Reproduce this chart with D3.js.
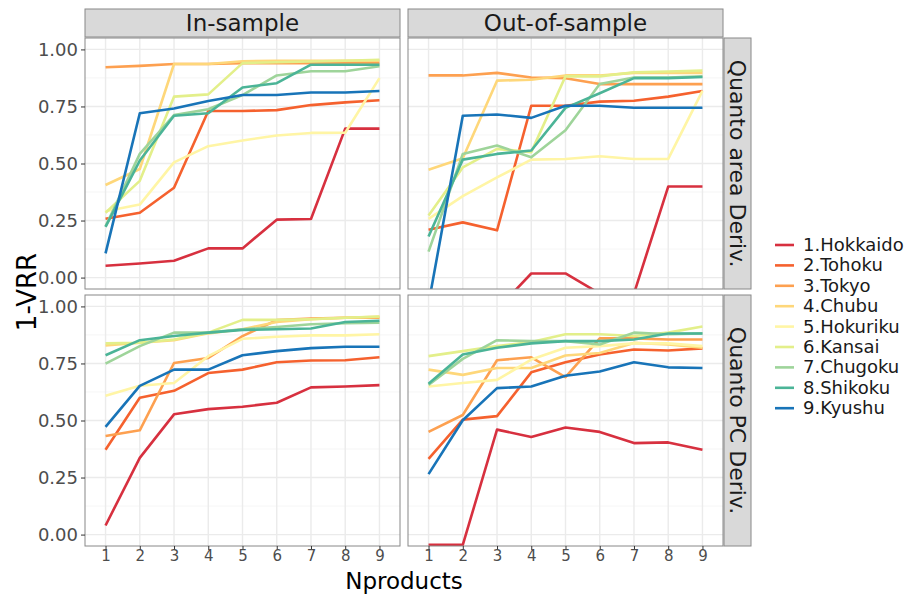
<!DOCTYPE html>
<html>
<head>
<meta charset="utf-8">
<script src="https://cdn.jsdelivr.net/npm/d3@7"></script>
<style>
body { margin: 0; background: #fff; }
text { font-family: "DejaVu Sans", sans-serif; }
.tick text { fill: #4d4d4d; }
</style>
</head>
<body>
<svg id="chart" width="921" height="594"></svg>
<script>
// regions, in legend order
var regions = ["1.Hokkaido", "2.Tohoku", "3.Tokyo", "4.Chubu", "5.Hokuriku",
               "6.Kansai", "7.Chugoku", "8.Shikoku", "9.Kyushu"];
var colors = ["#d7303f", "#f5612e", "#fda050", "#fed77a", "#fff5a5",
              "#e3ef8a", "#9ed49a", "#4bb497", "#1874b8"];
var nproducts = [1, 2, 3, 4, 5, 6, 7, 8, 9];
var cols = ["In-sample", "Out-of-sample"];
var rows = ["Quanto area Deriv.", "Quanto PC Deriv."];

// 1-VRR, one row per region (Hokkaido .. Kyushu)
var inArea = [
  [0.052, 0.062, 0.074, 0.128, 0.128, 0.254, 0.257, 0.653, 0.653],
  [0.258, 0.284, 0.394, 0.730, 0.730, 0.734, 0.756, 0.768, 0.777],
  [0.922, 0.928, 0.936, 0.936, 0.940, 0.940, 0.940, 0.940, 0.940],
  [0.406, 0.476, 0.936, 0.936, 0.948, 0.950, 0.950, 0.950, 0.950],
  [0.291, 0.320, 0.505, 0.576, 0.601, 0.623, 0.634, 0.635, 0.874],
  [0.284, 0.424, 0.793, 0.803, 0.940, 0.944, 0.947, 0.950, 0.955],
  [0.225, 0.542, 0.712, 0.738, 0.800, 0.886, 0.904, 0.904, 0.926],
  [0.222, 0.513, 0.709, 0.720, 0.833, 0.852, 0.933, 0.933, 0.933],
  [0.106, 0.720, 0.741, 0.774, 0.800, 0.800, 0.811, 0.811, 0.818]
];
var outArea = [
  [-0.15, -0.15, -0.14, 0.018, 0.018, -0.07, -0.07, 0.399, 0.399],
  [0.210, 0.242, 0.207, 0.753, 0.753, 0.771, 0.775, 0.793, 0.818],
  [0.886, 0.886, 0.897, 0.877, 0.874, 0.848, 0.848, 0.848, 0.848],
  [0.473, 0.523, 0.863, 0.867, 0.886, 0.886, 0.897, 0.897, 0.897],
  [0.257, 0.357, 0.439, 0.517, 0.520, 0.532, 0.520, 0.520, 0.818],
  [0.272, 0.483, 0.564, 0.550, 0.882, 0.882, 0.900, 0.903, 0.907],
  [0.114, 0.542, 0.579, 0.527, 0.646, 0.848, 0.877, 0.877, 0.882],
  [0.180, 0.517, 0.542, 0.557, 0.744, 0.808, 0.874, 0.874, 0.879],
  [-0.115, 0.709, 0.715, 0.700, 0.753, 0.753, 0.744, 0.744, 0.744]
];
var inPC = [
  [0.040, 0.336, 0.527, 0.550, 0.560, 0.578, 0.645, 0.649, 0.655],
  [0.372, 0.600, 0.630, 0.708, 0.723, 0.755, 0.763, 0.764, 0.777],
  [0.432, 0.457, 0.752, 0.774, 0.870, 0.940, 0.947, 0.950, 0.950],
  [0.829, 0.841, 0.852, 0.882, 0.900, 0.932, 0.944, 0.950, 0.954],
  [0.608, 0.652, 0.664, 0.782, 0.858, 0.867, 0.873, 0.873, 0.878],
  [0.838, 0.841, 0.855, 0.885, 0.941, 0.941, 0.944, 0.950, 0.956],
  [0.749, 0.826, 0.885, 0.885, 0.900, 0.910, 0.922, 0.926, 0.929],
  [0.786, 0.852, 0.870, 0.885, 0.897, 0.900, 0.903, 0.932, 0.937],
  [0.472, 0.652, 0.723, 0.723, 0.786, 0.804, 0.817, 0.823, 0.823]
];
var outPC = [
  [-0.045, -0.045, 0.460, 0.428, 0.469, 0.450, 0.401, 0.404, 0.372],
  [0.332, 0.504, 0.519, 0.711, 0.755, 0.789, 0.811, 0.807, 0.816],
  [0.450, 0.524, 0.764, 0.777, 0.690, 0.860, 0.860, 0.855, 0.855],
  [0.723, 0.700, 0.730, 0.730, 0.785, 0.796, 0.840, 0.833, 0.819],
  [0.649, 0.664, 0.678, 0.767, 0.819, 0.826, 0.838, 0.838, 0.826],
  [0.782, 0.804, 0.826, 0.844, 0.878, 0.878, 0.870, 0.885, 0.912],
  [0.656, 0.770, 0.852, 0.848, 0.848, 0.833, 0.885, 0.878, 0.882],
  [0.661, 0.789, 0.819, 0.838, 0.848, 0.848, 0.855, 0.881, 0.881],
  [0.265, 0.501, 0.642, 0.649, 0.696, 0.715, 0.755, 0.733, 0.730]
];
var panelData = [[inArea, outArea], [inPC, outPC]];

var svg = d3.select("#chart");
var panelX = [85, 408], panelW = 315;
var panelY = [38, 295], panelH = 251;

var x = d3.scaleLinear().domain([0.4, 9.6]).range([0, panelW]);
var y = d3.scaleLinear().domain([-0.05, 1.05]).range([panelH, 0]);
var line = d3.line().x(function(d, i) { return x(nproducts[i]); }).y(function(d) { return y(d); });

// column strips
cols.forEach(function(c, j) {
  var g = svg.append("g").attr("transform", "translate(" + panelX[j] + ",9)");
  g.append("rect").attr("width", panelW).attr("height", 28)
    .attr("fill", "#d9d9d9").attr("stroke", "#888").attr("stroke-width", 1);
  g.append("text").attr("x", panelW / 2).attr("y", 22).attr("text-anchor", "middle")
    .attr("font-size", 23).attr("fill", "#1a1a1a").text(c);
});

// row strips
rows.forEach(function(r, i) {
  var g = svg.append("g").attr("transform", "translate(724," + panelY[i] + ")");
  g.append("rect").attr("width", 27).attr("height", panelH)
    .attr("fill", "#d9d9d9").attr("stroke", "#888").attr("stroke-width", 1);
  g.append("text").attr("transform", "translate(6," + panelH / 2 + ") rotate(90)")
    .attr("text-anchor", "middle").attr("font-size", 22).attr("fill", "#1a1a1a").text(r);
});

rows.forEach(function(r, i) {
  cols.forEach(function(c, j) {
    var g = svg.append("g").attr("transform", "translate(" + panelX[j] + "," + panelY[i] + ")");
    var id = "clip" + i + j;
    g.append("clipPath").attr("id", id).append("rect").attr("width", panelW).attr("height", panelH);

    // minor + major grid
    d3.range(-0.125, 1.05, 0.125).forEach(function(v) {
      var major = Math.abs(v * 4 - Math.round(v * 4)) < 1e-6;
      if (v < -0.05) return;
      g.append("line").attr("x1", 0).attr("x2", panelW).attr("y1", y(v)).attr("y2", y(v))
        .attr("stroke", major ? "#ebebeb" : "#f2f2f2").attr("stroke-width", major ? 1.4 : 0.8);
    });
    nproducts.forEach(function(n) {
      g.append("line").attr("y1", 0).attr("y2", panelH).attr("x1", x(n)).attr("x2", x(n))
        .attr("stroke", "#ebebeb").attr("stroke-width", 1.4);
    });

    var lines = g.append("g").attr("clip-path", "url(#" + id + ")");
    panelData[i][j].forEach(function(vals, k) {
      lines.append("path").datum(vals).attr("d", line).attr("fill", "none")
        .attr("stroke", colors[k]).attr("stroke-width", 2.6).attr("stroke-linejoin", "round");
    });

    g.append("rect").attr("width", panelW).attr("height", panelH)
      .attr("fill", "none").attr("stroke", "#888").attr("stroke-width", 1);

    if (j === 0) {
      var ya = g.append("g").call(d3.axisLeft(y).tickValues([0, 0.25, 0.5, 0.75, 1])
        .tickFormat(d3.format(".2f")).tickSize(4).tickPadding(3));
      ya.select(".domain").remove();
      ya.selectAll(".tick line").attr("stroke", "#333");
      ya.selectAll(".tick text").attr("font-size", 18).attr("font-family", "DejaVu Sans");
    }
    if (i === 1) {
      var xa = g.append("g").attr("transform", "translate(0," + panelH + ")")
        .call(d3.axisBottom(x).tickValues(nproducts).tickFormat(d3.format("d")).tickSize(4).tickPadding(0));
      xa.select(".domain").remove();
      xa.selectAll(".tick line").attr("stroke", "#333");
      xa.selectAll(".tick text").attr("font-size", 15).attr("font-family", "DejaVu Sans Condensed, DejaVu Sans");
    }
  });
});

// axis titles
svg.append("text").attr("x", 404).attr("y", 588.5).attr("text-anchor", "middle")
  .attr("font-size", 23).attr("fill", "#000").text("Nproducts");
svg.append("text").attr("transform", "translate(36,292) rotate(-90)").attr("text-anchor", "middle")
  .attr("font-size", 26).attr("fill", "#000").text("1-VRR");

// legend
var lg = svg.append("g").attr("transform", "translate(773,245)");
regions.forEach(function(name, k) {
  var row = lg.append("g").attr("transform", "translate(0," + k * 20.4 + ")");
  row.append("line").attr("x1", 2).attr("x2", 21).attr("stroke", colors[k]).attr("stroke-width", 2.6);
  row.append("text").attr("x", 30).attr("y", 6).attr("font-size", 18).attr("fill", "#1a1a1a").text(name);
});
</script>
</body>
</html>
